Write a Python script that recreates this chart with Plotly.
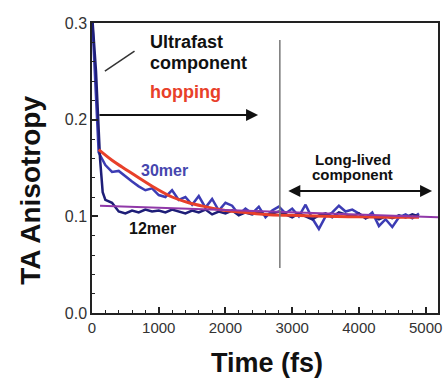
import plotly.graph_objects as go

# ---- data ----
time_30mer = [0, 50, 100, 200, 300, 400, 500, 600, 700, 800, 900, 1000, 1100, 1200, 1300, 1400,
              1500, 1600, 1700, 1800, 1900, 2000, 2100, 2200, 2300, 2400, 2500, 2600, 2700, 2800,
              2900, 3000, 3100, 3200, 3300, 3400, 3500, 3600, 3700, 3800, 3900, 4000, 4100, 4200,
              4300, 4400, 4500, 4600, 4700, 4800, 4900]
aniso_30mer = [0.31, 0.23, 0.166, 0.153, 0.146, 0.147, 0.141, 0.136, 0.131, 0.127, 0.129, 0.122,
               0.120, 0.127, 0.117, 0.120, 0.112, 0.121, 0.109, 0.118, 0.106, 0.114, 0.111, 0.102,
               0.108, 0.103, 0.110, 0.099, 0.106, 0.110, 0.103, 0.108, 0.100, 0.112, 0.098, 0.087,
               0.100, 0.104, 0.111, 0.105, 0.107, 0.103, 0.098, 0.104, 0.090, 0.097, 0.089, 0.099,
               0.102, 0.098, 0.103]

time_12mer = [0, 60, 120, 160, 200, 300, 400, 500, 600, 700, 800, 900, 1000, 1100, 1200, 1300,
              1400, 1500, 1600, 1700, 1800, 1900, 2000, 2100, 2200, 2300, 2400, 2500, 2600, 2700,
              2800, 2900, 3000, 3100, 3200, 3300, 3400, 3500, 3600, 3700, 3800, 3900, 4000, 4100,
              4200, 4300, 4400, 4500, 4600, 4700, 4800, 4900]
aniso_12mer = [0.31, 0.25, 0.16, 0.125, 0.117, 0.114, 0.105, 0.103, 0.106, 0.104, 0.107, 0.105,
               0.106, 0.104, 0.107, 0.105, 0.103, 0.106, 0.104, 0.107, 0.102, 0.105, 0.103, 0.106,
               0.101, 0.104, 0.102, 0.105, 0.101, 0.103, 0.105, 0.102, 0.099, 0.103, 0.100, 0.097,
               0.101, 0.103, 0.099, 0.104, 0.102, 0.100, 0.103, 0.098, 0.101, 0.097, 0.100, 0.098,
               0.101, 0.099, 0.102, 0.100]

time_hopping_fit = [100, 300, 450, 700, 955, 1200, 1450, 1700, 2000, 2300, 2600, 3000, 3500,
                    4000, 4500, 4900]
aniso_hopping_fit = [0.169, 0.158, 0.151, 0.140, 0.129, 0.120, 0.114, 0.110, 0.106, 0.104,
                     0.102, 0.101, 0.100, 0.0995, 0.099, 0.099]

time_12mer_fit = [120, 5185]
aniso_12mer_fit = [0.111, 0.099]

x_tick_vals = [0, 1000, 2000, 3000, 4000, 5000]
y_tick_vals = [0.0, 0.1, 0.2, 0.3]
y_tick_text = ["0.0", "0.1", "0.2", "0.3"]

FONT = "Arial, Liberation Sans, sans-serif"

fig = go.Figure()
fig.add_trace(go.Scatter(x=time_30mer, y=aniso_30mer, mode="lines",
                         line=dict(color="#3c3cb4", width=2.5), name="30mer"))
fig.add_trace(go.Scatter(x=time_12mer, y=aniso_12mer, mode="lines",
                         line=dict(color="#1e1e78", width=2.5), name="12mer"))
fig.add_trace(go.Scatter(x=time_hopping_fit, y=aniso_hopping_fit, mode="lines",
                         line=dict(color="#e8402a", width=3, shape="spline"), name="hopping"))
fig.add_trace(go.Scatter(x=time_12mer_fit, y=aniso_12mer_fit, mode="lines",
                         line=dict(color="#9038a8", width=2), name="12mer fit"))

# reference lines
fig.add_shape(type="line", x0=2815, x1=2815, y0=0.0466, y1=0.2824,
              line=dict(color="#777777", width=1.5))
fig.add_shape(type="line", x0=193, x1=637, y0=0.2503, y1=0.271,
              line=dict(color="#333333", width=1.5))

ann = []
# arrows
ann.append(dict(x=2489, y=0.2048, ax=89, ay=0.2048, xref="x", yref="y", axref="x", ayref="y",
                showarrow=True, arrowhead=2, arrowsize=1.2, arrowwidth=2, arrowcolor="#111111",
                text=""))
ann.append(dict(x=5096, y=0.1262, ax=2919, ay=0.1262, xref="x", yref="y", axref="x", ayref="y",
                showarrow=True, arrowhead=2, startarrowhead=2, arrowside="end+start",
                arrowsize=1.2, arrowwidth=2, arrowcolor="#111111", text=""))


def label(text, x, y, size, color="#111111", xanchor="left"):
    ann.append(dict(x=x, y=y, xref="paper", yref="paper", text="<b>" + text + "</b>",
                    showarrow=False, xanchor=xanchor, yanchor="middle",
                    font=dict(family=FONT, size=size, color=color)))


# paper coordinates: plot area x 92..442, y 23..313 (pixels)
def px(xp):
    return (xp - 92) / 350.0


def py(yp):
    return (313 - yp) / 290.0


label("Ultrafast", px(149), py(42), 18)
label("component", px(149), py(63), 18)
label("hopping", px(149), py(92), 18, color="#e8402a")
label("30mer", px(140), py(170), 16, color="#4646ae")
label("12mer", px(127), py(228), 16)
label("Long-lived", px(356), py(160), 15, xanchor="center")
label("component", px(356), py(175), 15, xanchor="center")

# axis titles
ann.append(dict(x=px(30), y=py(190), xref="paper", yref="paper", text="<b>TA Anisotropy</b>",
                showarrow=False, textangle=-90, xanchor="center", yanchor="middle",
                font=dict(family=FONT, size=28, color="#111111")))
ann.append(dict(x=px(269), y=py(363), xref="paper", yref="paper", text="<b>Time (fs)</b>",
                showarrow=False, xanchor="center", yanchor="middle",
                font=dict(family=FONT, size=27, color="#111111")))

fig.update_layout(
    width=448, height=378,
    margin=dict(l=92, r=6, t=23, b=65),
    paper_bgcolor="white", plot_bgcolor="white",
    showlegend=False,
    annotations=ann,
    font=dict(family=FONT),
)
fig.update_xaxes(range=[0, 5185], tickvals=x_tick_vals, ticks="inside", ticklen=6, tickwidth=1.5,
                 tickcolor="#222222", showline=True, linecolor="#222222", linewidth=1.5,
                 mirror=True, showgrid=False, zeroline=False,
                 tickfont=dict(family=FONT, size=15, color="#333333"),
                 minor=dict(dtick=200, ticks="inside", ticklen=3, tickwidth=1.2,
                            tickcolor="#222222", showgrid=False))
fig.update_yaxes(range=[0, 0.3], tickvals=y_tick_vals, ticktext=y_tick_text, ticks="inside",
                 ticklen=6, tickwidth=1.5, tickcolor="#222222", showline=True,
                 linecolor="#222222", linewidth=1.5, mirror=True, showgrid=False, zeroline=False,
                 tickfont=dict(family=FONT, size=16, color="#333333"),
                 minor=dict(dtick=0.02, ticks="inside", ticklen=3, tickwidth=1.2,
                            tickcolor="#222222", showgrid=False))

fig.write_html("out.html", config={"displayModeBar": False},
               post_script="document.body.style.margin='0';document.body.style.overflow='hidden';")
